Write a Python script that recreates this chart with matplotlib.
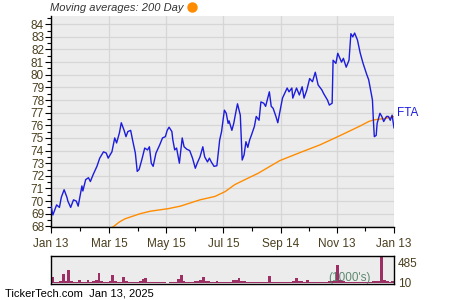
import numpy as np
import matplotlib
matplotlib.use("Agg")
import matplotlib.pyplot as plt
import matplotlib.dates as mdt
from matplotlib.lines import Line2D
from matplotlib.ticker import MultipleLocator, FixedLocator

plt.rcParams['font.family'] = ['Liberation Sans', 'DejaVu Sans']

# ---------------- data ----------------
start_date = np.datetime64('2024-01-13')
end_date = np.datetime64('2025-01-13')

# price: days after start, closing price
price_days = [0, 2, 6, 9, 11, 14, 17, 18, 21, 24, 27, 29, 33, 34, 37, 40, 42, 45, 49, 52,
              56, 59, 61, 65, 68, 70, 73, 75, 78, 80, 82, 85, 87, 90, 92, 94, 97, 100, 103, 105,
              107, 109, 112, 116, 119, 122, 124, 126, 129, 130, 132, 134, 137, 140, 142, 145, 148, 151, 154, 156,
              159, 162, 164, 167, 169, 171, 174, 177, 180, 182, 185, 187, 189, 190, 193, 195, 197, 199, 202, 204,
              206, 208, 210, 212, 214, 217, 219, 222, 224, 227, 229, 233, 235, 237, 240, 242, 247, 252, 254, 257,
              258, 262, 265, 268, 270, 273, 276, 279, 282, 285, 289, 291, 295, 297, 300, 301, 304, 306, 310, 312,
              315, 318, 320, 322, 324, 327, 330, 333, 337, 339, 343, 344, 345, 347, 348, 351, 353, 355, 358, 360,
              362, 364, 366]
price_vals = [69.6, 68.9, 69.7, 69.5, 70.3, 70.9, 70.3, 70.0, 69.5, 70.1, 70.0, 69.6, 71.2, 70.8, 71.7, 71.85, 71.55, 72.1, 72.75, 73.4,
              73.9, 73.8, 73.4, 73.9, 75.0, 74.6, 75.4, 76.2, 75.6, 75.1, 75.5, 75.6, 74.85, 73.8, 72.35, 72.5, 73.3, 74.2, 74.05, 74.3,
              73.0, 72.75, 73.8, 74.45, 75.0, 75.1, 75.6, 75.85, 75.5, 74.85, 74.05, 74.2, 73.0, 75.0, 74.3, 74.1, 74.0, 73.4, 72.6, 73.0,
              73.5, 74.3, 73.5, 73.1, 73.4, 73.1, 72.75, 72.8, 74.85, 75.5, 77.2, 76.95, 76.15, 76.35, 75.6, 76.15, 76.95, 77.7, 76.8, 73.25,
              73.65, 74.7, 74.25, 74.85, 75.25, 75.9, 76.7, 76.4, 77.85, 77.75, 77.5, 78.65, 77.5, 77.35, 76.7, 76.2, 78.15, 78.95, 78.65, 78.95,
              78.15, 78.95, 78.4, 79.05, 78.15, 78.8, 79.7, 79.45, 80.2, 79.2, 78.8, 78.5, 78.0, 77.6, 77.75, 81.15, 80.9, 81.7, 81.0, 81.3,
              80.6, 81.15, 83.25, 83.0, 83.3, 82.75, 81.7, 80.9, 80.0, 79.6, 78.0, 76.4, 75.1, 75.2, 76.15, 76.95, 76.7, 76.3, 76.7, 76.7,
              76.4, 76.8, 75.8]

# 200 day moving average
ma_days = [66, 67, 73, 79, 91, 95, 106, 122, 125, 138, 159, 175, 186, 196, 207, 221, 244, 266, 287, 306,
           321, 330, 339, 344, 355, 366]
ma_vals = [67.95, 68.0, 68.35, 68.6, 68.9, 69.0, 69.2, 69.37, 69.4, 69.6, 70.1, 70.37, 70.76, 71.3, 71.7, 72.2, 73.2, 73.85, 74.45, 75.1,
           75.63, 75.95, 76.3, 76.42, 76.53, 76.68]

# volume (1000's)
volume = [150, 40, 30, 55, 210, 45, 310, 60, 35, 40, 83, 30, 35, 83, 40, 45, 83, 233, 50, 40,
          35, 55, 190, 60, 40, 35, 150, 45, 40, 30, 35, 40, 55, 108, 125, 40, 30, 25, 30, 35,
          25, 30, 20, 25, 30, 35, 108, 190, 45, 35, 30, 40, 50, 60, 75, 150, 45, 50, 35, 30,
          60, 35, 30, 25, 30, 40, 75, 90, 133, 60, 45, 40, 30, 25, 30, 35, 40, 30, 35, 167,
          40, 30, 25, 30, 25, 30, 40, 35, 60, 133, 50, 45, 40, 83, 35, 30, 25, 30, 35, 30,
          40, 45, 50, 60, 425, 70, 45, 40, 35, 30, 30, 35, 40, 30, 35, 40, 30, 45, 50, 60,
          700, 80, 50, 40, 45]

tick_dates = ['2024-01-13', '2024-03-15', '2024-05-15', '2024-07-15', '2024-09-14', '2024-11-13', '2025-01-13']
tick_labels = ['Jan 13', 'Mar 15', 'May 15', 'Jul 15', 'Sep 14', 'Nov 13', 'Jan 13']
vol_ticks = [485, 10]
vol_tick_labels = ['485', '10']

# ---------------- styling ----------------
bg = '#ececec'
grid_c = '#d6d6d6'
txt_c = '#4a3e1e'
blue = '#1c1cdc'
orange = '#ff8c00'
vol_c = '#9c2f63'

fig = plt.figure(figsize=(4.5, 3.0), dpi=100)
fig.patch.set_facecolor('white')

ax = fig.add_axes([51/450, 1 - 227/300, 343/450, 211/300])
ax.set_facecolor(bg)

pdates = start_date + np.array(price_days).astype('timedelta64[D]')
mdates_ = start_date + np.array(ma_days).astype('timedelta64[D]')

ax.plot(pdates, price_vals, color=blue, lw=1.0, zorder=3)
ax.plot(mdates_, ma_vals, color=orange, lw=1.0, zorder=2)

ax.set_xlim(start_date, end_date)
ax.set_ylim(67.95, 84.65)

tnum = [mdt.date2num(np.datetime64(d)) for d in tick_dates]
ax.xaxis.set_major_locator(FixedLocator(tnum))
ax.set_xticklabels(tick_labels)
ax.xaxis.set_minor_locator(FixedLocator([(a + b) / 2 for a, b in zip(tnum[:-1], tnum[1:])]))
ax.yaxis.set_major_locator(MultipleLocator(1))
ax.yaxis.set_minor_locator(MultipleLocator(0.5))

ax.grid(True, which='major', color=grid_c, lw=0.9)
ax.set_axisbelow(True)
for s in ['top', 'right']:
    ax.spines[s].set_visible(False)
for s in ['left', 'bottom']:
    ax.spines[s].set_color('black')
    ax.spines[s].set_linewidth(1.0)

ax.tick_params(axis='both', which='major', direction='out', length=4, width=0.8,
               colors='black', labelcolor=txt_c, labelsize=8.5)
ax.tick_params(axis='both', which='minor', direction='out', length=3, width=0.8, colors='black')
ax.tick_params(axis='y', pad=1)
ax.tick_params(axis='x', pad=4)

ax.text(1.009, 76.95, 'FTA', transform=ax.get_yaxis_transform(), color=blue,
        fontsize=8.5, va='center', ha='left')

# title / legend
fig.text(50/450, 1 - 8/300, 'Moving averages: 200 Day', style='italic', fontsize=8,
         color='#333333', va='center', ha='left')
fig.add_artist(Line2D([192/450], [1 - 7/300], marker='o', markersize=6.5, color=orange,
                      transform=fig.transFigure))

# ---------------- volume panel ----------------
ax2 = fig.add_axes([51/450, 1 - 284/300, 343/450, 28/300])
ax2.set_facecolor(bg)
n = len(volume)
x0 = mdt.date2num(start_date)
step = (mdt.date2num(end_date) - x0) / n
ax2.bar(x0 + np.arange(n) * step + step / 2, volume, width=step,
        color=vol_c, linewidth=0)
ax2.set_xlim(x0, mdt.date2num(end_date))
ax2.set_ylim(-15, 640)
ax2.set_xticks([])
ax2.yaxis.tick_right()
ax2.set_yticks(vol_ticks)
ax2.set_yticklabels(vol_tick_labels)
ax2.tick_params(axis='y', length=0, labelsize=8.5, labelcolor=txt_c, pad=3)
for s in ax2.spines.values():
    s.set_color('black')
    s.set_linewidth(1.0)
ax2.text(0.87, 0.2, "(1000's)", transform=ax2.transAxes, color='#4f7f63', fontsize=8.5,
         va='center', ha='center', alpha=0.9)

fig.text(5/450, 1 - 294/300, 'TickerTech.com  Jan 13, 2025', fontsize=8, color='black',
         va='center', ha='left')

fig.savefig('out.png', dpi=100)
